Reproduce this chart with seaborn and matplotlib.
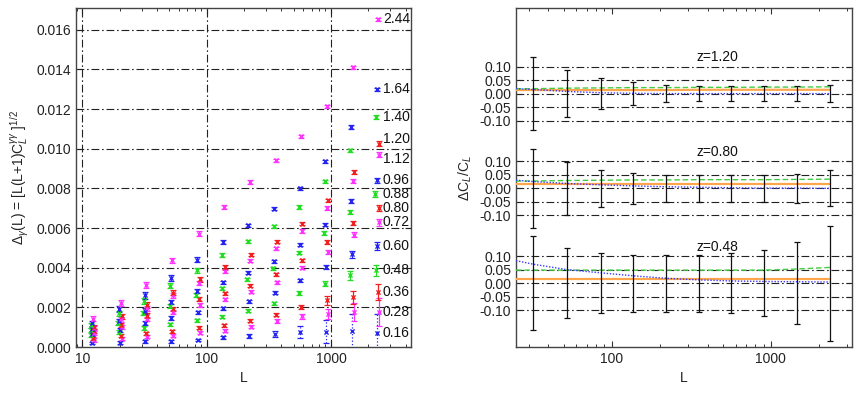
import numpy as np
import pandas as pd
import matplotlib.pyplot as plt
import seaborn as sns

# ---- left panel data: Delta_gamma(L) per redshift bin ----
L_bins = [12, 20, 32, 52, 85, 136, 218, 353, 566, 908, 1463, 2350]
z_labels = ['0.16', '0.28', '0.36', '0.48', '0.60', '0.72', '0.80',
            '0.88', '0.96', '1.12', '1.20', '1.40', '1.64', '2.44']
z_colors = ['blue', 'magenta', 'red', 'green'] * 3 + ['blue', 'magenta']
# small differences of the bin centres between redshift bins
L_shift = [1.00, 1.04, 1.02, 0.98, 1.00, 1.04, 1.03, 0.97, 0.99, 1.03, 1.04, 0.98, 0.99, 1.02]

delta = [
    [0.00020, 0.00022, 0.00028, 0.00028, 0.00035, 0.00050, 0.00057, 0.00067, 0.00075, 0.00078, 0.00080, 0.00072],
    [0.00035, 0.00042, 0.00052, 0.00058, 0.00072, 0.00083, 0.00103, 0.00130, 0.00154, 0.00168, 0.00176, 0.00176],
    [0.00045, 0.00058, 0.00070, 0.00080, 0.00098, 0.00109, 0.00132, 0.00164, 0.00201, 0.00235, 0.00251, 0.00277],
    [0.00060, 0.00075, 0.00095, 0.00114, 0.00135, 0.00152, 0.00183, 0.00220, 0.00274, 0.00319, 0.00361, 0.00386],
    [0.00065, 0.00088, 0.00120, 0.00145, 0.00175, 0.00196, 0.00231, 0.00274, 0.00336, 0.00403, 0.00467, 0.00509],
    [0.00072, 0.00100, 0.00141, 0.00176, 0.00212, 0.00240, 0.00280, 0.00327, 0.00400, 0.00478, 0.00566, 0.00630],
    [0.00080, 0.00110, 0.00158, 0.00193, 0.00240, 0.00270, 0.00310, 0.00366, 0.00437, 0.00529, 0.00625, 0.00701],
    [0.00085, 0.00120, 0.00172, 0.00206, 0.00262, 0.00297, 0.00341, 0.00398, 0.00475, 0.00575, 0.00680, 0.00773],
    [0.00090, 0.00130, 0.00182, 0.00226, 0.00282, 0.00326, 0.00374, 0.00433, 0.00516, 0.00617, 0.00736, 0.00840],
    [0.00095, 0.00140, 0.00195, 0.00260, 0.00324, 0.00381, 0.00435, 0.00499, 0.00585, 0.00701, 0.00839, 0.00970],
    [0.00100, 0.00155, 0.00213, 0.00274, 0.00341, 0.00403, 0.00465, 0.00531, 0.00623, 0.00740, 0.00882, 0.01026],
    [0.00110, 0.00170, 0.00231, 0.00310, 0.00386, 0.00465, 0.00534, 0.00610, 0.00706, 0.00835, 0.00992, 0.01160],
    [0.00120, 0.00190, 0.00260, 0.00347, 0.00440, 0.00531, 0.00613, 0.00697, 0.00801, 0.00936, 0.01109, 0.01300],
    [0.00142, 0.00222, 0.00314, 0.00437, 0.00571, 0.00706, 0.00832, 0.00941, 0.01062, 0.01214, 0.01412, 0.01654],
]
# error half-lengths, in units of 1e-4
delta_err = [
    [0.6, 0.6, 0.6, 0.6, 0.6, 0.8, 1.0, 1.6, 3.0, 6.0, 8.5, 9.5],
    [0.8, 0.8, 0.8, 0.8, 0.8, 0.8, 0.8, 1.0, 1.4, 2.5, 4.5, 7.0],
    [0.8, 0.8, 0.8, 0.8, 0.8, 0.8, 0.8, 0.9, 1.0, 2.2, 3.2, 4.2],
    [0.9, 0.9, 0.9, 0.9, 0.8, 0.8, 0.8, 0.8, 1.0, 1.2, 2.2, 3.0],
    [1.0, 1.0, 1.0, 0.9, 0.9, 0.8, 0.8, 0.8, 0.9, 1.0, 1.8, 2.2],
    [1.0, 1.0, 1.2, 1.0, 1.0, 0.8, 0.8, 0.8, 0.8, 1.0, 1.2, 1.8],
    [1.0, 1.1, 1.2, 1.0, 1.0, 0.8, 0.8, 0.8, 0.8, 0.9, 1.2, 1.5],
    [1.0, 1.1, 1.2, 1.0, 1.0, 0.8, 0.8, 0.8, 0.8, 0.9, 1.0, 1.5],
    [1.0, 1.2, 1.3, 1.1, 1.0, 0.8, 0.8, 0.8, 0.8, 0.8, 1.0, 1.2],
    [1.1, 1.2, 1.4, 1.2, 1.1, 0.9, 0.8, 0.8, 0.8, 0.8, 1.0, 1.2],
    [1.1, 1.3, 1.4, 1.2, 1.1, 0.9, 0.8, 0.8, 0.8, 0.8, 1.0, 1.3],
    [1.2, 1.4, 1.5, 1.3, 1.2, 0.9, 0.8, 0.8, 0.8, 0.8, 0.9, 1.0],
    [1.2, 1.5, 1.6, 1.4, 1.2, 1.0, 0.8, 0.8, 0.8, 0.8, 0.9, 0.9],
    [1.3, 1.7, 1.4, 1.3, 1.3, 1.0, 0.8, 0.8, 0.8, 0.8, 0.8, 0.8],
]

# ---- right panel data: relative errors and systematic shifts ----
L_right = [32, 52, 85, 136, 218, 353, 566, 908, 1463, 2350]
L_curve = [25, 32, 52, 85, 136, 218, 353, 566, 908, 1463, 2350]
z_right = ['0.48', '0.80', '1.20']
rel_err = {
    '1.20': [0.135, 0.087, 0.057, 0.042, 0.032, 0.028, 0.028, 0.028, 0.028, 0.031],
    '0.80': [0.146, 0.099, 0.069, 0.057, 0.050, 0.050, 0.050, 0.050, 0.054, 0.066],
    '0.48': [0.174, 0.128, 0.111, 0.105, 0.105, 0.105, 0.111, 0.121, 0.151, 0.212],
}
shift_green = {
    '1.20': [0.018, 0.018, 0.020, 0.021, 0.022, 0.022, 0.023, 0.023, 0.024, 0.024, 0.025],
    '0.80': [0.027, 0.027, 0.029, 0.030, 0.031, 0.031, 0.032, 0.032, 0.032, 0.033, 0.034],
    '0.48': [0.048, 0.048, 0.048, 0.048, 0.048, 0.048, 0.048, 0.048, 0.048, 0.052, 0.058],
}
shift_orange = {
    '1.20': [0.013, 0.013, 0.013, 0.013, 0.013, 0.013, 0.014, 0.014, 0.014, 0.014, 0.014],
    '0.80': [0.015, 0.015, 0.015, 0.015, 0.015, 0.015, 0.015, 0.015, 0.015, 0.015, 0.015],
    '0.48': [0.016, 0.016, 0.016, 0.016, 0.016, 0.016, 0.016, 0.016, 0.016, 0.016, 0.016],
}
shift_blue = {
    '1.20': [0.018, 0.015, 0.008, 0.003, 0.001, 0.000, 0.000, 0.000, 0.000, 0.000, 0.000],
    '0.80': [0.030, 0.025, 0.018, 0.013, 0.009, 0.006, 0.004, 0.002, 0.001, 0.001, 0.000],
    '0.48': [0.083, 0.070, 0.050, 0.038, 0.027, 0.018, 0.012, 0.008, 0.006, 0.005, 0.004],
}
panel_offset = {'0.48': 0.0, '0.80': 0.35, '1.20': 0.70}
ytick_vals = [0.10, 0.05, 0.00, -0.05, -0.10]

sns.set_style('ticks')
plt.rcParams['font.family'] = ['Liberation Sans', 'DejaVu Sans']
plt.rcParams['mathtext.fontset'] = 'custom'
plt.rcParams['mathtext.rm'] = 'Liberation Sans'
plt.rcParams['mathtext.it'] = 'Liberation Sans:italic'
plt.rcParams['axes.unicode_minus'] = False

pal = {'blue': '#2424f0', 'magenta': '#ff33ff', 'red': '#f02020', 'green': '#22dd22'}
grid_ls = (0, (7, 2.5, 1.5, 2.5))
grid_kw = dict(color='#222222', lw=0.8, ls=grid_ls)

fig = plt.figure(figsize=(8.61, 3.93), dpi=100)
ax1 = fig.add_axes([0.0883, 0.117, 0.389, 0.8626])
ax2 = fig.add_axes([0.5993, 0.117, 0.390, 0.8626])

# left panel
for i, z in enumerate(z_labels):
    x = np.array(L_bins) * L_shift[i]
    y = np.array(delta[i])
    err = np.array(delta_err[i]) * 1e-4
    c = pal[z_colors[i]]
    eb = ax1.errorbar(x, y, yerr=err, fmt='none', ecolor=c, elinewidth=0.9,
                      capsize=2, capthick=0.9, zorder=3)
    if z == '0.16':
        eb[2][0].set_linestyle(':')
    sns.scatterplot(x=x, y=y, ax=ax1, color=c, marker='x', s=9, linewidth=1.0, zorder=4)
    nudge = {'1.20': 0.00022, '1.12': -0.00022}.get(z, 0.0)
    ax1.text(2620, y[-1] + nudge, z, fontsize=10, va='center', ha='left', color='#111111')

ax1.set_xscale('log')
ax1.set_xlim(8.9, 4400)
ax1.set_ylim(0, 0.0171)
ax1.set_yticks(np.arange(0, 0.0161, 0.002))
ax1.set_yticklabels([f'{v:.3f}' for v in np.arange(0, 0.0161, 0.002)])
ax1.set_xticks([10, 100, 1000])
ax1.set_xticklabels(['10', '100', '1000'])
for v in np.arange(0.002, 0.0161, 0.002):
    ax1.axhline(v, zorder=1, **grid_kw)
for v in [10, 100, 1000]:
    ax1.axvline(v, zorder=1, **grid_kw)
ax1.set_xlabel('L', fontsize=10)
ax1.set_ylabel(r'$\Delta_\gamma$(L) = [L(L+1)C$_L^{\gamma\gamma}$ ]$^{1/2}$', fontsize=10, labelpad=4)

# right panel
for z in z_right:
    off = panel_offset[z]
    curves = pd.DataFrame({
        'L': L_curve * 3,
        'shift': [off + v for v in shift_green[z]] + [off + v for v in shift_orange[z]]
                 + [off + v for v in shift_blue[z]],
        'kind': ['green'] * 11 + ['orange'] * 11 + ['blue'] * 11,
    })
    sns.lineplot(data=curves[curves.kind == 'orange'], x='L', y='shift', ax=ax2,
                 color='#ffa64d', lw=1.6, zorder=3)
    sns.lineplot(data=curves[curves.kind == 'green'], x='L', y='shift', ax=ax2,
                 color='#44cc44', lw=1.0, ls=(0, (4, 2)), zorder=3)
    sns.lineplot(data=curves[curves.kind == 'blue'], x='L', y='shift', ax=ax2,
                 color='#3a3aff', lw=1.0, ls=(0, (1, 1.2)), zorder=3)
    ax2.errorbar(L_right, [off] * len(L_right), yerr=rel_err[z], fmt='none',
                 ecolor='#111111', elinewidth=0.9, capsize=2, capthick=0.9, zorder=4)
    ax2.text(465, off + 0.135, 'z=' + z, fontsize=10, ha='center', va='center', color='#111111')
    for v in ytick_vals:
        ax2.axhline(off + v, zorder=1, **grid_kw)

yt, ytl = [], []
for z in z_right:
    for v in ytick_vals:
        yt.append(panel_offset[z] + v)
        ytl.append(f'{v:.2f}')
ax2.set_yticks(yt)
ax2.set_yticklabels(ytl)
ax2.set_xscale('log')
ax2.set_xlim(25, 3230)
ax2.set_ylim(-0.236, 1.016)
ax2.set_xticks([100, 1000])
ax2.set_xticklabels(['100', '1000'])
ax2.set_xlabel('L', fontsize=10)
ax2.set_ylabel(r'$\Delta$C$_L$/C$_L$', fontsize=10, labelpad=4)

for ax in (ax1, ax2):
    ax.tick_params(which='both', direction='in', top=True, right=True, labelsize=10,
                   color='#333333', labelcolor='#222222')
    ax.tick_params(which='major', length=4, width=0.8)
    ax.tick_params(which='minor', length=2.5, width=0.7)
    ax.tick_params(axis='y', which='minor', left=False, right=False)
    for s in ax.spines.values():
        s.set_color('#444444')
        s.set_linewidth(1.0)
    ax.xaxis.label.set_color('#222222')
    ax.yaxis.label.set_color('#222222')

fig.savefig('out.png', dpi=100)
